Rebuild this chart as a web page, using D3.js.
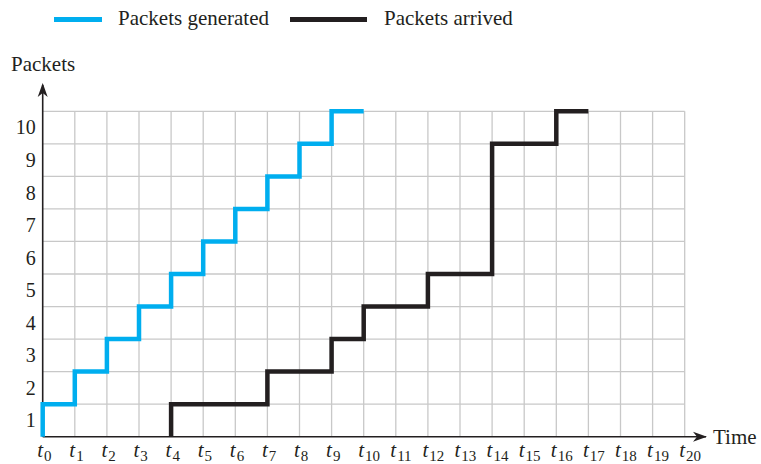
<!DOCTYPE html>
<html><head><meta charset="utf-8">
<script src="https://cdn.jsdelivr.net/npm/d3@7"></script>
<style>body{margin:0;background:#fff}svg{display:block}text{font-family:"Liberation Serif","Times New Roman",serif;fill:#231f20}</style>
</head><body>
<script>
const timeTicks = d3.range(0, 21);             // t0 ... t20
const packetTicks = d3.range(1, 11);           // 1 ... 10
const generatedTimes  = [0, 0, 1, 2, 3, 4, 5, 6, 7, 8, 9, 10];
const generatedValues = [0, 1, 2, 3, 4, 5, 6, 7, 8, 9, 10, 10];
const arrivedTimes  = [4, 4, 7, 9, 10, 12, 14, 16, 17];
const arrivedValues = [0, 1, 2, 3, 4, 5, 9, 10, 10];
const seriesNames = ["Packets generated", "Packets arrived"];
const seriesColors = ["#00aeef", "#231f20"];

const W = 761, H = 464;
const svg = d3.select("body").append("svg").attr("width", W).attr("height", H);
const x = d3.scaleLinear().domain([0, 20]).range([42.7, 684.7]);
const y = d3.scaleLinear().domain([0, 10]).range([436.7, 111.3]);
const ink = "#231f20", gridC = "#c8c8c8";

// grid
const g = svg.append("g");
g.selectAll("line.v").data(timeTicks.slice(1)).join("line")
  .attr("x1", d => x(d)).attr("x2", d => x(d)).attr("y1", y(0)).attr("y2", y(10))
  .attr("stroke", gridC).attr("stroke-width", 1.3);
g.selectAll("line.h").data(packetTicks).join("line")
  .attr("x1", x(0)).attr("x2", x(20)).attr("y1", d => y(d)).attr("y2", d => y(d))
  .attr("stroke", gridC).attr("stroke-width", 1.3);

// x axis
const xa = svg.append("g").attr("transform", `translate(0,${y(0)})`)
  .call(d3.axisBottom(x).tickValues(timeTicks).tickSize(0).tickFormat(d => "t" + d));
xa.select(".domain").remove();
xa.selectAll(".tick text").each(function(d) {
  const t = d3.select(this);
  t.text(null).attr("text-anchor", "start").attr("x", -6).attr("y", 0).attr("dy", null)
   .style("font-size", "21px").attr("transform", "translate(0,20.5)");
  t.append("tspan").text("t").style("font-style", "italic");
  t.append("tspan").text(d).attr("dy", 4).attr("dx", 1).style("font-size", "15px");
});
svg.append("line").attr("x1", x(0)).attr("x2", 706).attr("y1", y(0)).attr("y2", y(0))
  .attr("stroke", ink).attr("stroke-width", 1.6);
svg.append("path").attr("d", `M707,${y(0)} L693,${y(0)-5} L697,${y(0)} L693,${y(0)+5} Z`).attr("fill", ink);
svg.append("text").attr("x", 713).attr("y", y(0) + 7).style("font-size", "21px").text("Time");

// y axis
const ya = svg.append("g").attr("transform", `translate(${x(0)},0)`)
  .call(d3.axisLeft(y).tickValues(packetTicks).tickSize(0).tickPadding(7));
ya.select(".domain").remove();
ya.selectAll(".tick text").style("font-size", "20px")
  .attr("transform", d => `translate(0,${y(d - 0.5) - y(d)})`);
svg.append("line").attr("x1", x(0)).attr("x2", x(0)).attr("y1", y(0)).attr("y2", 85)
  .attr("stroke", ink).attr("stroke-width", 1.6);
svg.append("path").attr("d", `M${x(0)},83 L${x(0)-5},97 L${x(0)},93 L${x(0)+5},97 Z`).attr("fill", ink);
svg.append("text").attr("x", 11).attr("y", 71).style("font-size", "21px").text("Packets");

// step lines
const line = d3.line().x(d => x(d[0])).y(d => y(d[1])).curve(d3.curveStepAfter);
const series = [
  d3.zip(generatedTimes, generatedValues),
  d3.zip(arrivedTimes, arrivedValues)
];
svg.selectAll("path.s").data(series).join("path")
  .attr("d", line).attr("fill", "none")
  .attr("stroke", (d, i) => seriesColors[i]).attr("stroke-width", 4.5)
  .attr("stroke-linejoin", "miter").attr("stroke-linecap", "butt");

// legend
const legX = [[54, 102, 118], [290, 367, 384]];
const lg = svg.selectAll("g.leg").data(seriesNames).join("g");
lg.append("line").attr("x1", (d, i) => legX[i][0]).attr("x2", (d, i) => legX[i][1])
  .attr("y1", 19.5).attr("y2", 19.5).attr("stroke", (d, i) => seriesColors[i]).attr("stroke-width", 5);
lg.append("text").attr("x", (d, i) => legX[i][2]).attr("y", 25).style("font-size", "21px").text(d => d);
</script>
</body></html>
